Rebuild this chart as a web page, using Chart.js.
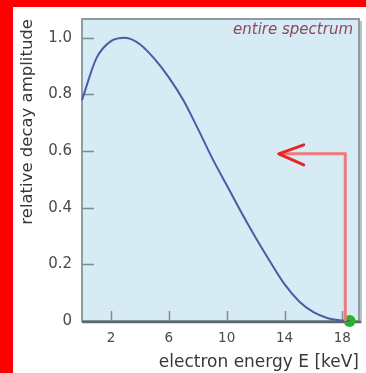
<!DOCTYPE html>
<html>
<head>
<meta charset="utf-8">
<script src="https://cdn.jsdelivr.net/npm/chart.js@4"></script>
<style>
  html, body { margin: 0; padding: 0; background: #fff; }
  canvas { display: block; }
</style>
</head>
<body>
<canvas id="spectrum" width="366" height="373"></canvas>
<script>
// Spectre beta du tritium (amplitude relative)
const energy = [0, 1, 2, 3, 4, 5, 6, 7, 8, 9, 10, 11, 12, 13, 14, 15, 16, 17, 18, 18.5];
const amplitude = [0.78, 0.928, 0.988, 1.0, 0.977, 0.926, 0.86, 0.78, 0.68, 0.575, 0.48, 0.385, 0.295, 0.21, 0.13, 0.07, 0.031, 0.01, 0.002, 0];

// Point final du spectre
const endpointE = [18.5];
const endpointA = [0];

// Flèche : montée verticale puis retour vers la gauche
const arrowE = [18.2, 18.2, 13.6];
const arrowA = [0, 0.59, 0.59];

const xTicks = [2, 6, 10, 14, 18];
const yTicks = [0, 0.2, 0.4, 0.6, 0.8, 1.0];

const toPoints = (xs, ys) => xs.map((x, i) => ({ x: x, y: ys[i] }));

// Fond, cadre, graduations internes et texte
const decor = {
  id: 'decor',
  beforeDraw(chart) {
    const { ctx, chartArea: a } = chart;
    ctx.save();
    ctx.fillStyle = '#ffffff';
    ctx.fillRect(0, 0, chart.width, chart.height);
    ctx.fillStyle = '#ff0000';
    ctx.fillRect(0, 0, 13, chart.height);
    ctx.fillRect(0, 0, chart.width, 7);
    ctx.fillStyle = '#d6ebf4';
    ctx.fillRect(a.left, a.top, a.right - a.left, a.bottom - a.top);
    ctx.restore();
  },
  beforeDatasetsDraw(chart) {
    const { ctx, chartArea: a, scales } = chart;
    ctx.save();
    // cadre
    ctx.strokeStyle = '#8d9da5';
    ctx.lineWidth = 2;
    ctx.strokeRect(a.left, a.top, a.right - a.left, a.bottom - a.top);
    ctx.strokeStyle = 'rgba(120,130,135,0.5)';
    ctx.lineWidth = 2;
    ctx.beginPath();
    ctx.moveTo(a.right + 2, a.top + 2);
    ctx.lineTo(a.right + 2, a.bottom + 2);
    ctx.stroke();
    ctx.strokeStyle = '#5d666b';
    ctx.lineWidth = 2.5;
    ctx.beginPath();
    ctx.moveTo(a.left, a.bottom + 1);
    ctx.lineTo(a.right + 2, a.bottom + 1);
    ctx.stroke();
    // graduations vers l'intérieur
    ctx.strokeStyle = '#7f8c92';
    ctx.lineWidth = 1.5;
    ctx.beginPath();
    yTicks.forEach(v => {
      if (v === 0) return;
      const y = Math.round(scales.y.getPixelForValue(v)) + 0.5;
      ctx.moveTo(a.left, y);
      ctx.lineTo(a.left + 12, y);
    });
    xTicks.forEach(v => {
      const x = Math.round(scales.x.getPixelForValue(v)) + 0.5;
      ctx.moveTo(x, a.bottom);
      ctx.lineTo(x, a.bottom - 10);
    });
    ctx.stroke();
    ctx.restore();
  },
  afterDatasetsDraw(chart) {
    const { ctx, chartArea: a, scales } = chart;
    ctx.save();
    // pointe de la flèche
    const tx = scales.x.getPixelForValue(arrowE[2]);
    const ty = scales.y.getPixelForValue(arrowA[2]);
    ctx.strokeStyle = '#e8262a';
    ctx.lineWidth = 3;
    ctx.lineCap = 'round';
    ctx.lineJoin = 'round';
    ctx.beginPath();
    ctx.moveTo(tx + 25, ty - 9);
    ctx.lineTo(tx, ty);
    ctx.lineTo(tx + 25, ty + 11);
    ctx.stroke();
    // étiquette
    ctx.font = 'italic 15px "DejaVu Sans"';
    ctx.fillStyle = '#8c4a5c';
    ctx.textAlign = 'right';
    ctx.textBaseline = 'alphabetic';
    ctx.fillText('entire spectrum', a.right - 6, a.top + 15);
    ctx.restore();
  }
};

new Chart(document.getElementById('spectrum'), {
  type: 'line',
  data: {
    datasets: [
      {
        data: toPoints(arrowE, arrowA),
        borderColor: '#ef7a7a',
        borderWidth: 3,
        pointRadius: 0,
        tension: 0,
        clip: false
      },
      {
        data: toPoints(energy, amplitude),
        borderColor: '#5059a8',
        borderWidth: 2,
        pointRadius: 0,
        cubicInterpolationMode: 'monotone',
        clip: false
      },
      {
        data: toPoints(endpointE, endpointA),
        showLine: false,
        pointRadius: 6,
        pointBackgroundColor: '#27b42a',
        pointBorderWidth: 0,
        clip: false
      }
    ]
  },
  options: {
    responsive: false,
    animation: false,
    devicePixelRatio: 1,
    layout: { padding: { left: 0, top: 13, right: 7, bottom: 0 } },
    plugins: {
      legend: { display: false },
      tooltip: { enabled: false }
    },
    scales: {
      x: {
        type: 'linear',
        min: 0,
        max: 19.15,
        afterFit: s => { s.height = 52; },
        afterBuildTicks: s => { s.ticks = xTicks.map(v => ({ value: v })); },
        grid: { display: false, drawTicks: false },
        border: { display: false },
        ticks: {
          padding: 9,
          color: '#4a4a4a',
          font: { family: 'DejaVu Sans', size: 13.5 },
          maxRotation: 0
        },
        title: {
          display: true,
          text: 'electron energy E [keV]',
          align: 'end',
          color: '#383838',
          font: { family: 'DejaVu Sans', size: 17 },
          padding: { top: 0, bottom: 0 }
        }
      },
      y: {
        min: 0,
        max: 1.066,
        afterFit: s => { s.width = 82; },
        afterBuildTicks: s => { s.ticks = yTicks.map(v => ({ value: v })); },
        grid: { display: false, drawTicks: false },
        border: { display: false },
        ticks: {
          padding: 10,
          color: '#4a4a4a',
          font: { family: 'DejaVu Sans', size: 15 },
          callback: v => (v === 0 ? '0' : v.toFixed(1))
        },
        title: {
          display: true,
          text: 'relative decay amplitude',
          align: 'end',
          color: '#383838',
          font: { family: 'DejaVu Sans', size: 16.5 },
          padding: { top: 18, bottom: 0 }
        }
      }
    }
  },
  plugins: [decor]
});
</script>
</body>
</html>
